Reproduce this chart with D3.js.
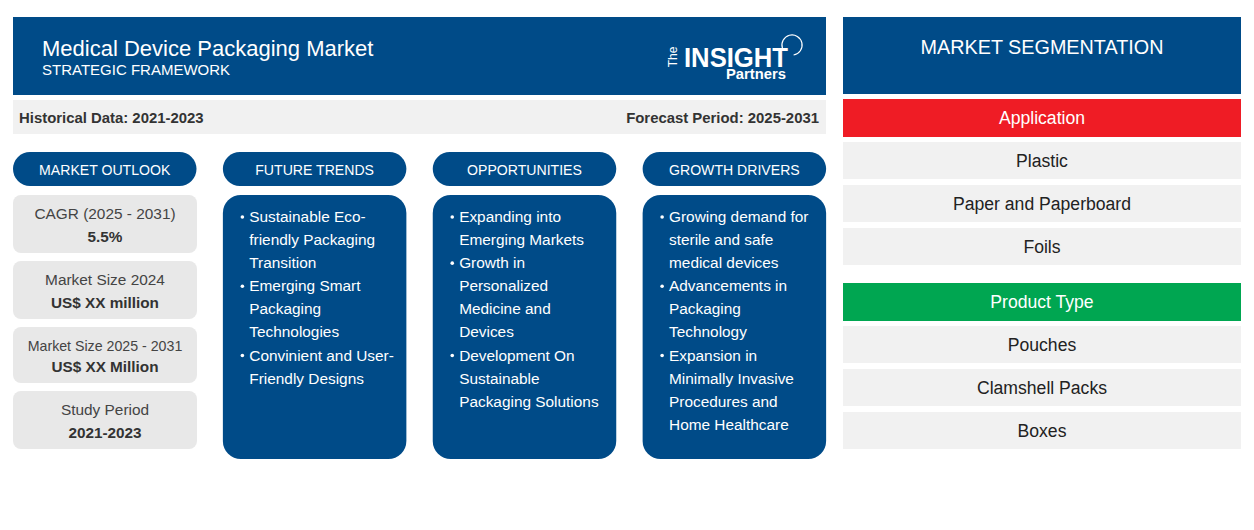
<!DOCTYPE html>
<html>
<head>
<meta charset="utf-8">
<script src="https://cdn.jsdelivr.net/npm/d3@7"></script>
<style>
  html, body { margin: 0; padding: 0; background: #fff; }
  text { font-family: "Liberation Sans", Arial, sans-serif; }
</style>
</head>
<body>
<div id="chart"></div>
<script>
// Chart content
var title = "Medical Device Packaging Market"
var subtitle = "STRATEGIC FRAMEWORK"
var historical = "Historical Data: 2021-2023"
var forecast = "Forecast Period: 2025-2031"

var columnNames = ["MARKET OUTLOOK", "FUTURE TRENDS", "OPPORTUNITIES", "GROWTH DRIVERS"]

var statLabels = ["CAGR (2025 - 2031)", "Market Size 2024", "Market Size 2025 - 2031", "Study Period"]
var statValues = ["5.5%", "US$ XX million", "US$ XX Million", "2021-2023"]

var futureTrends = [
  ["Sustainable Eco-", "friendly Packaging", "Transition"],
  ["Emerging Smart", "Packaging", "Technologies"],
  ["Convinient and User-", "Friendly Designs"]
]
var opportunities = [
  ["Expanding into", "Emerging Markets"],
  ["Growth in", "Personalized", "Medicine and", "Devices"],
  ["Development On", "Sustainable", "Packaging Solutions"]
]
var growthDrivers = [
  ["Growing demand for", "sterile and safe", "medical devices"],
  ["Advancements in", "Packaging", "Technology"],
  ["Expansion in", "Minimally Invasive", "Procedures and", "Home Healthcare"]
]

var segmentTitle = "MARKET SEGMENTATION"
var segmentGroups = ["Application", "Product Type"]
var applicationItems = ["Plastic", "Paper and Paperboard", "Foils"]
var productItems = ["Pouches", "Clamshell Packs", "Boxes"]

// Colours
var navy = "#004B88"
var red = "#EF1C25"
var green = "#00A651"
var statGrey = "#E8E8E8"
var lightGrey = "#F1F1F1"

var svgWidth = 1254
var svgHeight = 530

var svg = d3.select("#chart")
  .append("svg")
  .attr("width", svgWidth)
  .attr("height", svgHeight)
  .style("display", "block")

// small helper, most of the page is boxes with centred text
function box(x, y, w, h, fill, r) {
  return svg.append("rect")
    .attr("x", x).attr("y", y)
    .attr("width", w).attr("height", h)
    .attr("rx", r || 0).attr("ry", r || 0)
    .attr("fill", fill)
}

function label(x, y, str, size, fill, anchor, weight) {
  return svg.append("text")
    .attr("x", x).attr("y", y)
    .attr("font-size", size)
    .attr("fill", fill)
    .attr("text-anchor", anchor || "middle")
    .attr("font-weight", weight || "normal")
    .text(str)
}

// Header
box(13, 17, 813, 78, navy)
label(42, 56, title, 22, "#fff", "start")
label(42, 75, subtitle, 15, "#fff", "start")

// Logo
label(677, 57, "The", 12, "#fff", "middle")
  .attr("transform", "rotate(-90 677 57)")
label(684, 67, "INSIGHT", 28, "#fff", "start", "bold")
  .attr("textLength", 104).attr("lengthAdjust", "spacingAndGlyphs")
label(726, 79, "Partners", 14.5, "#fff", "start", "bold")
  .attr("textLength", 60).attr("lengthAdjust", "spacingAndGlyphs")
svg.append("path")
  .attr("d", d3.arc()({ innerRadius: 9.5, outerRadius: 10.7, startAngle: -Math.PI * 0.6, endAngle: Math.PI * 0.95 }))
  .attr("transform", "translate(792,45)")
  .attr("fill", "#fff")

// Period band
box(13, 100, 813, 34, lightGrey)
label(19, 123, historical, 14.9, "#333", "start", "bold")
label(819, 123, forecast, 14.9, "#333", "end", "bold")

// Four columns
var xColumn = d3.scaleBand()
  .domain(columnNames)
  .range([13, 852.5])

var colWidth = 183.5

svg.selectAll("g.pill")
  .data(columnNames)
  .join("g")
  .attr("class", "pill")
  .each(function(d) {
    var x = xColumn(d)
    d3.select(this).append("rect")
      .attr("x", x).attr("y", 152)
      .attr("width", colWidth).attr("height", 34)
      .attr("rx", 17).attr("fill", navy)
    d3.select(this).append("text")
      .attr("x", x + colWidth / 2).attr("y", 174.5)
      .attr("text-anchor", "middle")
      .attr("font-size", 14.1)
      .attr("fill", "#fff")
      .text(d)
  })

// Market outlook stat boxes
var statTop = [195, 261, 327, 391]
var statHeight = [58, 58, 56, 58]
var statLabelSize = [15.4, 15.4, 14.2, 15.4]

statLabels.forEach(function(d, i) {
  box(13, statTop[i], 184, statHeight[i], statGrey, 8)
  label(105, statTop[i] + 24, d, statLabelSize[i], "#444")
  label(105, statTop[i] + (i == 2 ? 45 : 47), statValues[i], 15.3, "#333", "middle", "bold")
})

// Bullet columns
var bulletColumns = [futureTrends, opportunities, growthDrivers]

bulletColumns.forEach(function(items, c) {
  var x = xColumn(columnNames[c + 1])
  box(x, 195, colWidth, 264, navy, 18)
  var line = 0
  items.forEach(function(lines) {
    lines.forEach(function(str, j) {
      var y = 221.95 + line * 23.1
      if (j == 0) {
        svg.append("circle")
          .attr("cx", x + 19.5).attr("cy", y - 5)
          .attr("r", 1.8).attr("fill", "#fff")
      }
      label(x + 26.4, y, str, 15.4, "#fff", "start")
      line++
    })
  })
})

// Segmentation panel
box(843, 17, 398, 77, navy)
label(1042, 53.5, segmentTitle, 19.8, "#fff")

var groupColors = [red, green]
var groupItems = [applicationItems, productItems]
var groupTop = [99, 283]

segmentGroups.forEach(function(g, i) {
  box(843, groupTop[i], 398, 38, groupColors[i])
  label(1042, groupTop[i] + 25, g, 17.6, "#fff")
  groupItems[i].forEach(function(d, j) {
    var y = groupTop[i] + 43 + j * 43
    box(843, y, 398, 37, lightGrey)
    label(1042, y + 24.5, d, 17.6, "#222")
  })
})
</script>
</body>
</html>
